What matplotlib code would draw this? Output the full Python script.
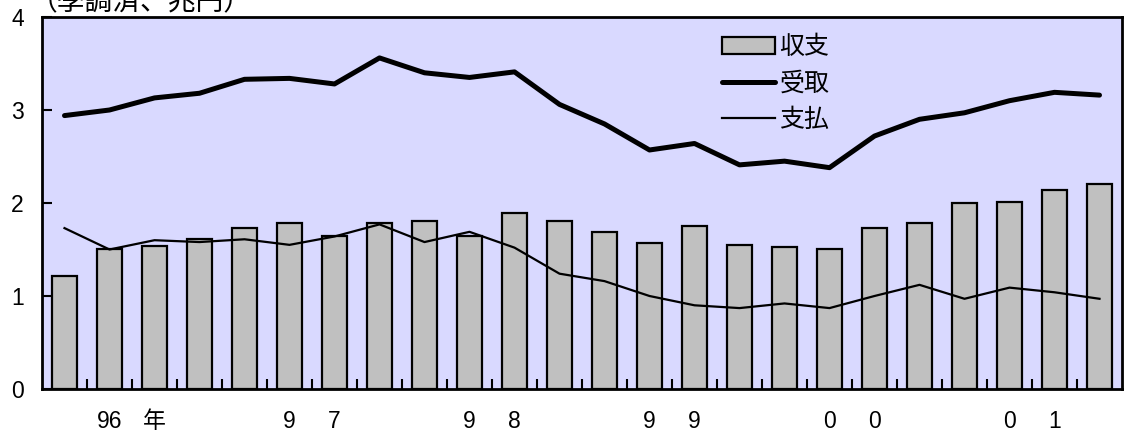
import matplotlib
matplotlib.use("Agg")
import matplotlib.pyplot as plt
import matplotlib.transforms as mtransforms
import numpy as np

plt.rcParams['font.family'] = ['Liberation Sans', 'Noto Sans CJK JP', 'DejaVu Sans']

# Quarterly series, 1996 Q1 - 2001 Q4 (seasonally adjusted, trillion yen)
quarters = list(range(24))
balance = [1.22, 1.50, 1.54, 1.61, 1.73, 1.79, 1.65, 1.79, 1.81, 1.65, 1.89, 1.81,
           1.69, 1.57, 1.75, 1.55, 1.53, 1.51, 1.73, 1.78, 2.00, 2.01, 2.14, 2.20]
receipts = [2.94, 3.00, 3.13, 3.18, 3.33, 3.34, 3.28, 3.56, 3.40, 3.35, 3.41, 3.06,
            2.85, 2.57, 2.64, 2.41, 2.45, 2.38, 2.72, 2.90, 2.97, 3.10, 3.19, 3.16]
payments = [1.73, 1.50, 1.60, 1.58, 1.61, 1.55, 1.64, 1.77, 1.58, 1.69, 1.52, 1.24,
            1.16, 1.00, 0.90, 0.87, 0.92, 0.87, 1.00, 1.12, 0.97, 1.09, 1.04, 0.97]

# Year labels are spread one character per quarter slot
year_labels = {1: "96", 2: "年", 5: "9", 6: "7", 9: "9", 10: "8",
               13: "9", 14: "9", 17: "0", 18: "0", 21: "0", 22: "1"}
y_ticks = [0, 1, 2, 3, 4]
unit_label = "（季調済、兆円）"
series_names = ["収支", "受取", "支払"]

W, H = 1124, 440
fig = plt.figure(figsize=(W / 100, H / 100), dpi=100)
ax = fig.add_axes([42 / W, 51 / H, (1122 - 42) / W, (389 - 17) / H])
ax.set_facecolor("#D9D9FF")

bars = ax.bar(quarters, balance, width=0.56, color="#C0C0C0",
              edgecolor="black", linewidth=1.6, zorder=2)
l1, = ax.plot(quarters, receipts, color="black", linewidth=3.6,
              solid_capstyle="round", solid_joinstyle="round", zorder=3)
l2, = ax.plot(quarters, payments, color="black", linewidth=1.6, zorder=3)

ax.set_xlim(-0.5, 23.5)
ax.set_ylim(0, 4)
ax.set_yticks(y_ticks)
ax.tick_params(axis="y", direction="in", length=7, width=1.5,
               labelsize=16.5, pad=13)
ax.set_xticks([])
ax.set_xticks(np.arange(0.5, 23.5, 1.0), minor=True)
ax.tick_params(axis="x", which="minor", direction="in", length=7, width=1.5)

for s in ax.spines.values():
    s.set_linewidth(2)
    s.set_color("black")

trans = mtransforms.blended_transform_factory(ax.transData, fig.transFigure)
for pos, txt in year_labels.items():
    ax.text(pos, 1 - 421 / H, txt, transform=trans, ha="center", va="center",
            fontsize=16.5)

fig.text(30 / W, 1 - 3.5 / H, unit_label, ha="left", va="center", fontsize=20)

leg = ax.legend([bars, l1, l2], series_names, loc="upper left",
                bbox_to_anchor=(722 / W, 1 - 35 / H),
                bbox_transform=fig.transFigure, frameon=False, fontsize=18,
                handlelength=2.1, handleheight=0.65, handletextpad=0.2,
                labelspacing=0.5, borderpad=0, borderaxespad=0)

fig.savefig("out.png", dpi=100)
